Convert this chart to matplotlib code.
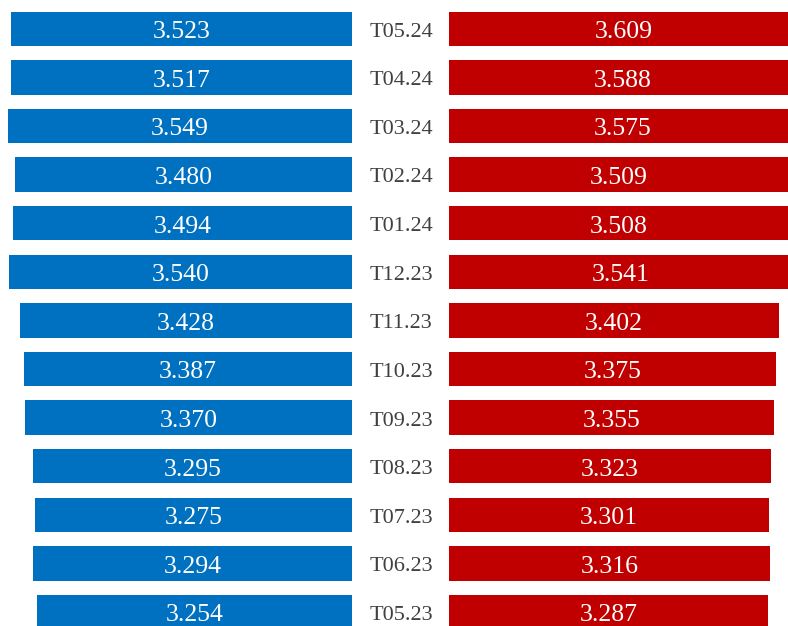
import numpy as np
import matplotlib.pyplot as plt

months = ['T05.24', 'T04.24', 'T03.24', 'T02.24', 'T01.24', 'T12.23', 'T11.23',
          'T10.23', 'T09.23', 'T08.23', 'T07.23', 'T06.23', 'T05.23']
left_vals = [3.523, 3.517, 3.549, 3.480, 3.494, 3.540, 3.428,
             3.387, 3.370, 3.295, 3.275, 3.294, 3.254]
right_vals = [3.609, 3.588, 3.575, 3.509, 3.508, 3.541, 3.402,
              3.375, 3.355, 3.323, 3.301, 3.316, 3.287]

W, H = 788, 626
px_per_unit = 96.9
row_h = 48.6
top_center = 28.7
bar_h = 34.4 / row_h

fig = plt.figure(figsize=(W / 100, H / 100), dpi=100)
plt.rcParams['font.family'] = 'Liberation Serif'

y = np.arange(len(months))
ylim = ((H - top_center) / row_h, -top_center / row_h)

# left (blue) axes: right edge at x=352 px
axl = fig.add_axes([0, 0, 352 / W, 1])
axl.barh(y, left_vals, height=bar_h, color='#0070C0')
axl.set_xlim(352 / px_per_unit, 0)
axl.set_ylim(*ylim)
axl.axis('off')
for yi, v in zip(y, left_vals):
    axl.text(v / 2, yi + 0.02, f'{v:.3f}', ha='center', va='center_baseline',
             color='white', fontsize=18.5)

# right (red) axes: left edge at x=449 px
axr = fig.add_axes([449 / W, 0, (W - 449) / W, 1])
axr.barh(y, right_vals, height=bar_h, color='#C00000')
axr.set_xlim(0, (W - 449) / px_per_unit)
axr.set_ylim(*ylim)
axr.axis('off')
for yi, v in zip(y, right_vals):
    axr.text(v / 2, yi + 0.02, f'{v:.3f}', ha='center', va='center_baseline',
             color='white', fontsize=18.5)

# month labels in the middle
for yi, m in zip(y, months):
    fig.text(401 / W, 1 - (top_center + yi * row_h + 1) / H, m, ha='center',
             va='center_baseline', color='#404040', fontsize=16)

fig.savefig('out.png', dpi=100)
